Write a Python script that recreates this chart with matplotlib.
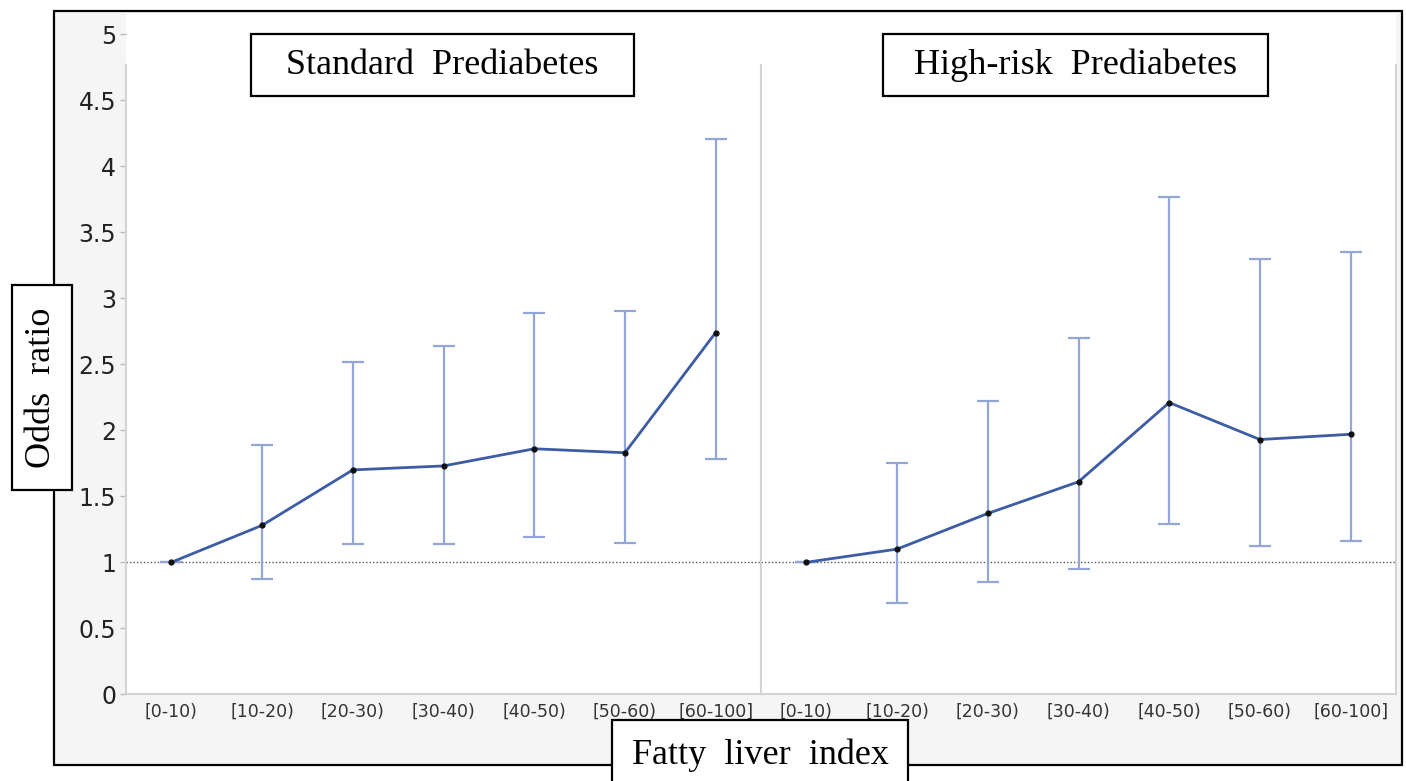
import matplotlib
matplotlib.use("Agg")
import matplotlib.pyplot as plt
from matplotlib.patches import Rectangle
import numpy as np

# categories of the fatty liver index
categories = ['[0-10)', '[10-20)', '[20-30)', '[30-40)', '[40-50)', '[50-60)', '[60-100]']

# standard prediabetes: odds ratio and 95% CI
std_or = [1.0, 1.28, 1.70, 1.73, 1.86, 1.83, 2.74]
std_lo = [1.0, 0.87, 1.14, 1.14, 1.19, 1.15, 1.78]
std_hi = [1.0, 1.89, 2.52, 2.64, 2.89, 2.90, 4.21]

# high-risk prediabetes: odds ratio and 95% CI
hr_or = [1.0, 1.10, 1.37, 1.61, 2.21, 1.93, 1.97]
hr_lo = [1.0, 0.69, 0.85, 0.95, 1.29, 1.12, 1.16]
hr_hi = [1.0, 1.75, 2.22, 2.70, 3.77, 3.30, 3.35]

yticks = [0, 0.5, 1, 1.5, 2, 2.5, 3, 3.5, 4, 4.5, 5]

W, H = 1406, 781
def fx(px):
    return px / W
def fy(py):
    return 1 - py / H

LINE = '#3d5ca6'
ERR = '#93a6d8'
EDGE = '#d4d4d4'
SERIF = 'Liberation Serif'

fig = plt.figure(figsize=(W / 100, H / 100), dpi=100)

# outer frame with light gray fill
frame = Rectangle((fx(54), fy(765)), fx(1402) - fx(54), fy(11) - fy(765),
                  transform=fig.transFigure, facecolor='#f5f5f5',
                  edgecolor='black', lw=1.6, zorder=-1)
fig.add_artist(frame)

y0, ytop = 694.3, 13
ymax = (y0 - ytop) / 132.0
axL = fig.add_axes([fx(126), fy(y0), fx(761) - fx(126), fy(ytop) - fy(y0)])
axR = fig.add_axes([fx(761), fy(y0), fx(1396) - fx(761), fy(ytop) - fy(y0)])

edge_top = 4.77 / ymax
for ax, orv, lo, hi in [(axL, std_or, std_lo, std_hi), (axR, hr_or, hr_lo, hr_hi)]:
    x = np.arange(len(categories))
    orv = np.array(orv); lo = np.array(lo); hi = np.array(hi)
    ax.set_facecolor('white')
    ax.axhline(1, color='#555555', ls=(0, (1, 1.5)), lw=1, zorder=1)
    ax.errorbar(x, orv, yerr=[orv - lo, hi - orv], fmt='none', ecolor=ERR,
                elinewidth=1.6, capsize=8, capthick=1.6, zorder=2)
    ax.plot(x, orv, color=LINE, lw=2, marker='o', ms=3.5,
            mfc='#111111', mec='#111111', zorder=3)
    ax.set_xlim(-0.5, 6.5)
    ax.set_ylim(0, ymax)
    ax.set_xticks(x, categories)
    ax.tick_params(axis='x', length=0, pad=6, labelsize=12.5, labelcolor='#333333')
    for s in ['top', 'left', 'right']:
        ax.spines[s].set_visible(False)
    ax.spines['bottom'].set_color(EDGE)
    ax.spines['bottom'].set_linewidth(1.5)
    ax.axvline(-0.5, ymax=edge_top, color=EDGE, lw=1.5, clip_on=False)
    ax.axvline(6.5, ymax=edge_top, color=EDGE, lw=1.5, clip_on=False)

axL.set_yticks(yticks, ['%g' % v for v in yticks])
axL.tick_params(axis='y', length=4, width=1, color='#bbbbbb', pad=3,
                labelsize=17, labelcolor='#222222')
axR.set_yticks([])

# boxed labels
def box(x0, y0b, x1, y1b, text, rot=0, cy=None):
    fig.add_artist(Rectangle((fx(x0), fy(y1b)), fx(x1) - fx(x0), fy(y0b) - fy(y1b),
                             transform=fig.transFigure, facecolor='white',
                             edgecolor='black', lw=1.6, zorder=5))
    cy = (y0b + y1b) / 2 if cy is None else cy
    fig.text(fx((x0 + x1) / 2), fy(cy), text, ha='center', va='center',
             rotation=rot, family=SERIF, fontsize=26, zorder=6)

box(251, 34, 634, 96, 'Standard  Prediabetes')
box(883, 34, 1268, 96, 'High-risk  Prediabetes')
box(12, 285, 72, 490, 'Odds  ratio', rot=90)
box(612, 720, 908, 790, 'Fatty  liver  index', cy=755)

fig.savefig('out.png', dpi=100)
